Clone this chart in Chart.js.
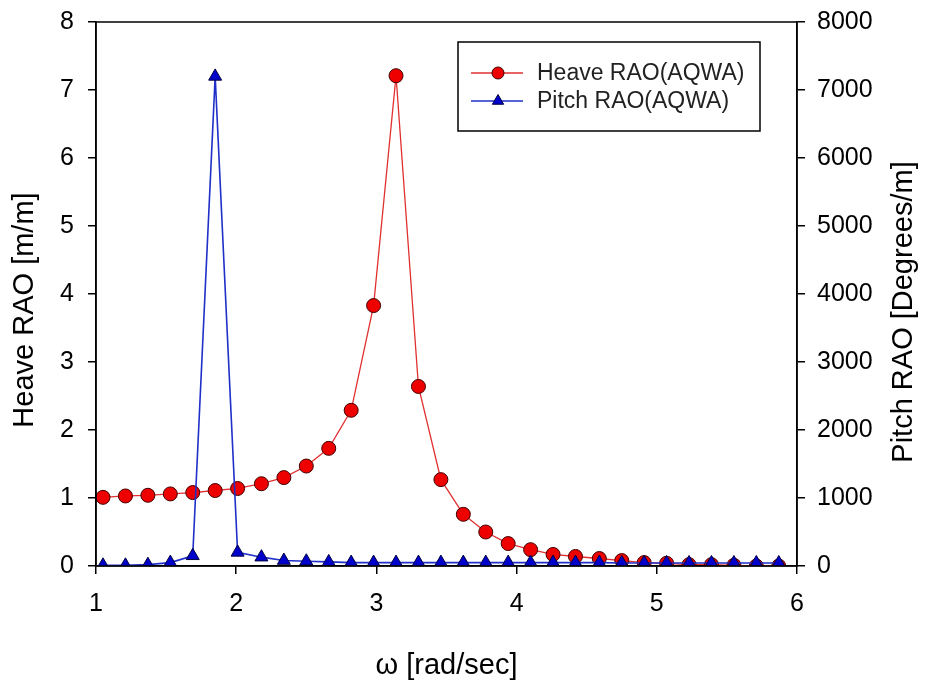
<!DOCTYPE html>
<html>
<head>
<meta charset="utf-8">
<script src="https://cdn.jsdelivr.net/npm/chart.js@4"></script>
<style>
  html, body { margin: 0; padding: 0; background: #fff; }
  #wrap { width: 932px; height: 687px; }
</style>
</head>
<body>
<div id="wrap"><canvas id="myChart" width="932" height="687"></canvas></div>
<script>
// frequency (rad/sec)
const omega = [1.05, 1.21, 1.37, 1.53, 1.69, 1.85, 2.01, 2.18, 2.34, 2.50, 2.66,
  2.82, 2.98, 3.14, 3.30, 3.46, 3.62, 3.78, 3.94, 4.10, 4.26, 4.42, 4.59, 4.75,
  4.91, 5.07, 5.23, 5.39, 5.55, 5.71, 5.87];
// heave RAO [m/m]
const heave = [1.01, 1.03, 1.04, 1.06, 1.08, 1.11, 1.14, 1.21, 1.30, 1.47, 1.73,
  2.29, 3.83, 7.21, 2.64, 1.27, 0.76, 0.50, 0.33, 0.24, 0.17, 0.14, 0.11, 0.08,
  0.05, 0.04, 0.02, 0.02, 0.01, 0.00, 0.00];
// pitch RAO [Degrees/m]
const pitch = [10, 10, 20, 50, 150, 7200, 200, 130, 80, 70, 60,
  50, 50, 50, 50, 50, 50, 50, 50, 50, 50, 50, 50, 45,
  45, 45, 45, 45, 45, 45, 45];

const leftTicks = [0, 1, 2, 3, 4, 5, 6, 7, 8];
const rightTicks = [0, 1000, 2000, 3000, 4000, 5000, 6000, 7000, 8000];

const FONT = "'Liberation Sans', Arial, sans-serif";
const TITLE_SIZE = 29;

const toXY = (ys) => omega.map((x, i) => ({ x: x, y: ys[i] }));

// box around the plot, y titles (both read bottom-to-top) and framed legend
const framePlugin = {
  id: 'frame',
  afterDraw(chart) {
    const { ctx, chartArea: a } = chart;
    ctx.save();
    ctx.strokeStyle = '#000';
    ctx.lineWidth = 1.5;
    ctx.strokeRect(a.left, a.top, a.right - a.left, a.bottom - a.top);

    // axis titles
    ctx.fillStyle = '#000';
    ctx.font = TITLE_SIZE + 'px ' + FONT;
    ctx.textAlign = 'center';
    ctx.textBaseline = 'middle';
    [[25, 310, 'Heave RAO [m/m]'], [904, 312, 'Pitch RAO [Degrees/m]']].forEach(([x, y, t]) => {
      ctx.save();
      ctx.translate(x, y);
      ctx.rotate(-Math.PI / 2);
      ctx.fillText(t, 0, 0);
      ctx.restore();
    });

    // legend
    const bx = 458, by = 42, bw = 302, bh = 89;
    ctx.textAlign = 'left';
    ctx.lineWidth = 1.5;
    ctx.strokeStyle = '#000';
    ctx.fillStyle = '#fff';
    ctx.fillRect(bx, by, bw, bh);
    ctx.strokeRect(bx, by, bw, bh);
    chart.data.datasets.forEach((ds, i) => {
      const y = by + 31 + i * 28;
      ctx.strokeStyle = ds.borderColor;
      ctx.lineWidth = ds.borderWidth;
      ctx.beginPath();
      ctx.moveTo(471, y);
      ctx.lineTo(523, y);
      ctx.stroke();
      ctx.fillStyle = ds.pointBackgroundColor;
      ctx.strokeStyle = ds.pointBorderColor;
      ctx.lineWidth = 1;
      Chart.helpers.drawPoint(ctx, { pointStyle: ds.pointStyle, radius: ds.pointRadius - 1, rotation: 0, borderWidth: 1 }, 498, y);
      ctx.fillStyle = '#222';
      ctx.font = '23px ' + FONT;
      ctx.textBaseline = 'middle';
      ctx.fillText(ds.label, 537, y + 1);
    });
    ctx.restore();
  }
};

new Chart(document.getElementById('myChart'), {
  type: 'line',
  data: {
    datasets: [{
      label: 'Heave RAO(AQWA)',
      data: toXY(heave),
      yAxisID: 'y',
      borderColor: '#e03030',
      borderWidth: 1.3,
      pointStyle: 'circle',
      pointRadius: 7,
      pointBackgroundColor: '#ee0000',
      pointBorderColor: '#400000',
      pointBorderWidth: 1,
      order: 2
    }, {
      label: 'Pitch RAO(AQWA)',
      data: toXY(pitch),
      yAxisID: 'y1',
      borderColor: '#2030c8',
      borderWidth: 1.6,
      pointStyle: 'triangle',
      pointRadius: 7.5,
      pointBackgroundColor: '#0000cc',
      pointBorderColor: '#000040',
      pointBorderWidth: 1,
      order: 1
    }]
  },
  options: {
    responsive: false,
    animation: false,
    layout: { padding: { top: 22, left: 0, right: 0, bottom: 0 } },
    plugins: {
      legend: { display: false },
      tooltip: { enabled: false }
    },
    scales: {
      x: {
        type: 'linear',
        min: 1, max: 6,
        ticks: { stepSize: 1, color: '#000', font: { family: FONT, size: 25 }, padding: 15 },
        grid: { drawOnChartArea: false, tickLength: 8, color: '#000', lineWidth: 1.5 },
        border: { color: '#000', width: 1.5 },
        title: { display: true, text: 'ω [rad/sec]', color: '#000', font: { family: FONT, size: TITLE_SIZE }, padding: { top: 14 } },
        afterFit: (s) => { s.height = 121; s.paddingLeft = 0; s.paddingRight = 0; }
      },
      y: {
        position: 'left',
        min: 0, max: 8,
        afterBuildTicks: (s) => { s.ticks = leftTicks.map(v => ({ value: v })); },
        ticks: { color: '#000', font: { family: FONT, size: 25 }, padding: 14 },
        grid: { drawOnChartArea: false, tickLength: 8, color: '#000', lineWidth: 1.5 },
        border: { color: '#000', width: 1.5 },
        afterFit: (s) => { s.width = 96; s.paddingTop = 0; s.paddingBottom = 0; }
      },
      y1: {
        position: 'right',
        min: 0, max: 8000,
        afterBuildTicks: (s) => { s.ticks = rightTicks.map(v => ({ value: v })); },
        ticks: { color: '#000', font: { family: FONT, size: 25 }, padding: 12, callback: (v) => String(v) },
        grid: { drawOnChartArea: false, tickLength: 8, color: '#000', lineWidth: 1.5 },
        border: { color: '#000', width: 1.5 },
        afterFit: (s) => { s.width = 135; s.paddingTop = 0; s.paddingBottom = 0; }
      }
    }
  },
  plugins: [framePlugin]
});
</script>
</body>
</html>
